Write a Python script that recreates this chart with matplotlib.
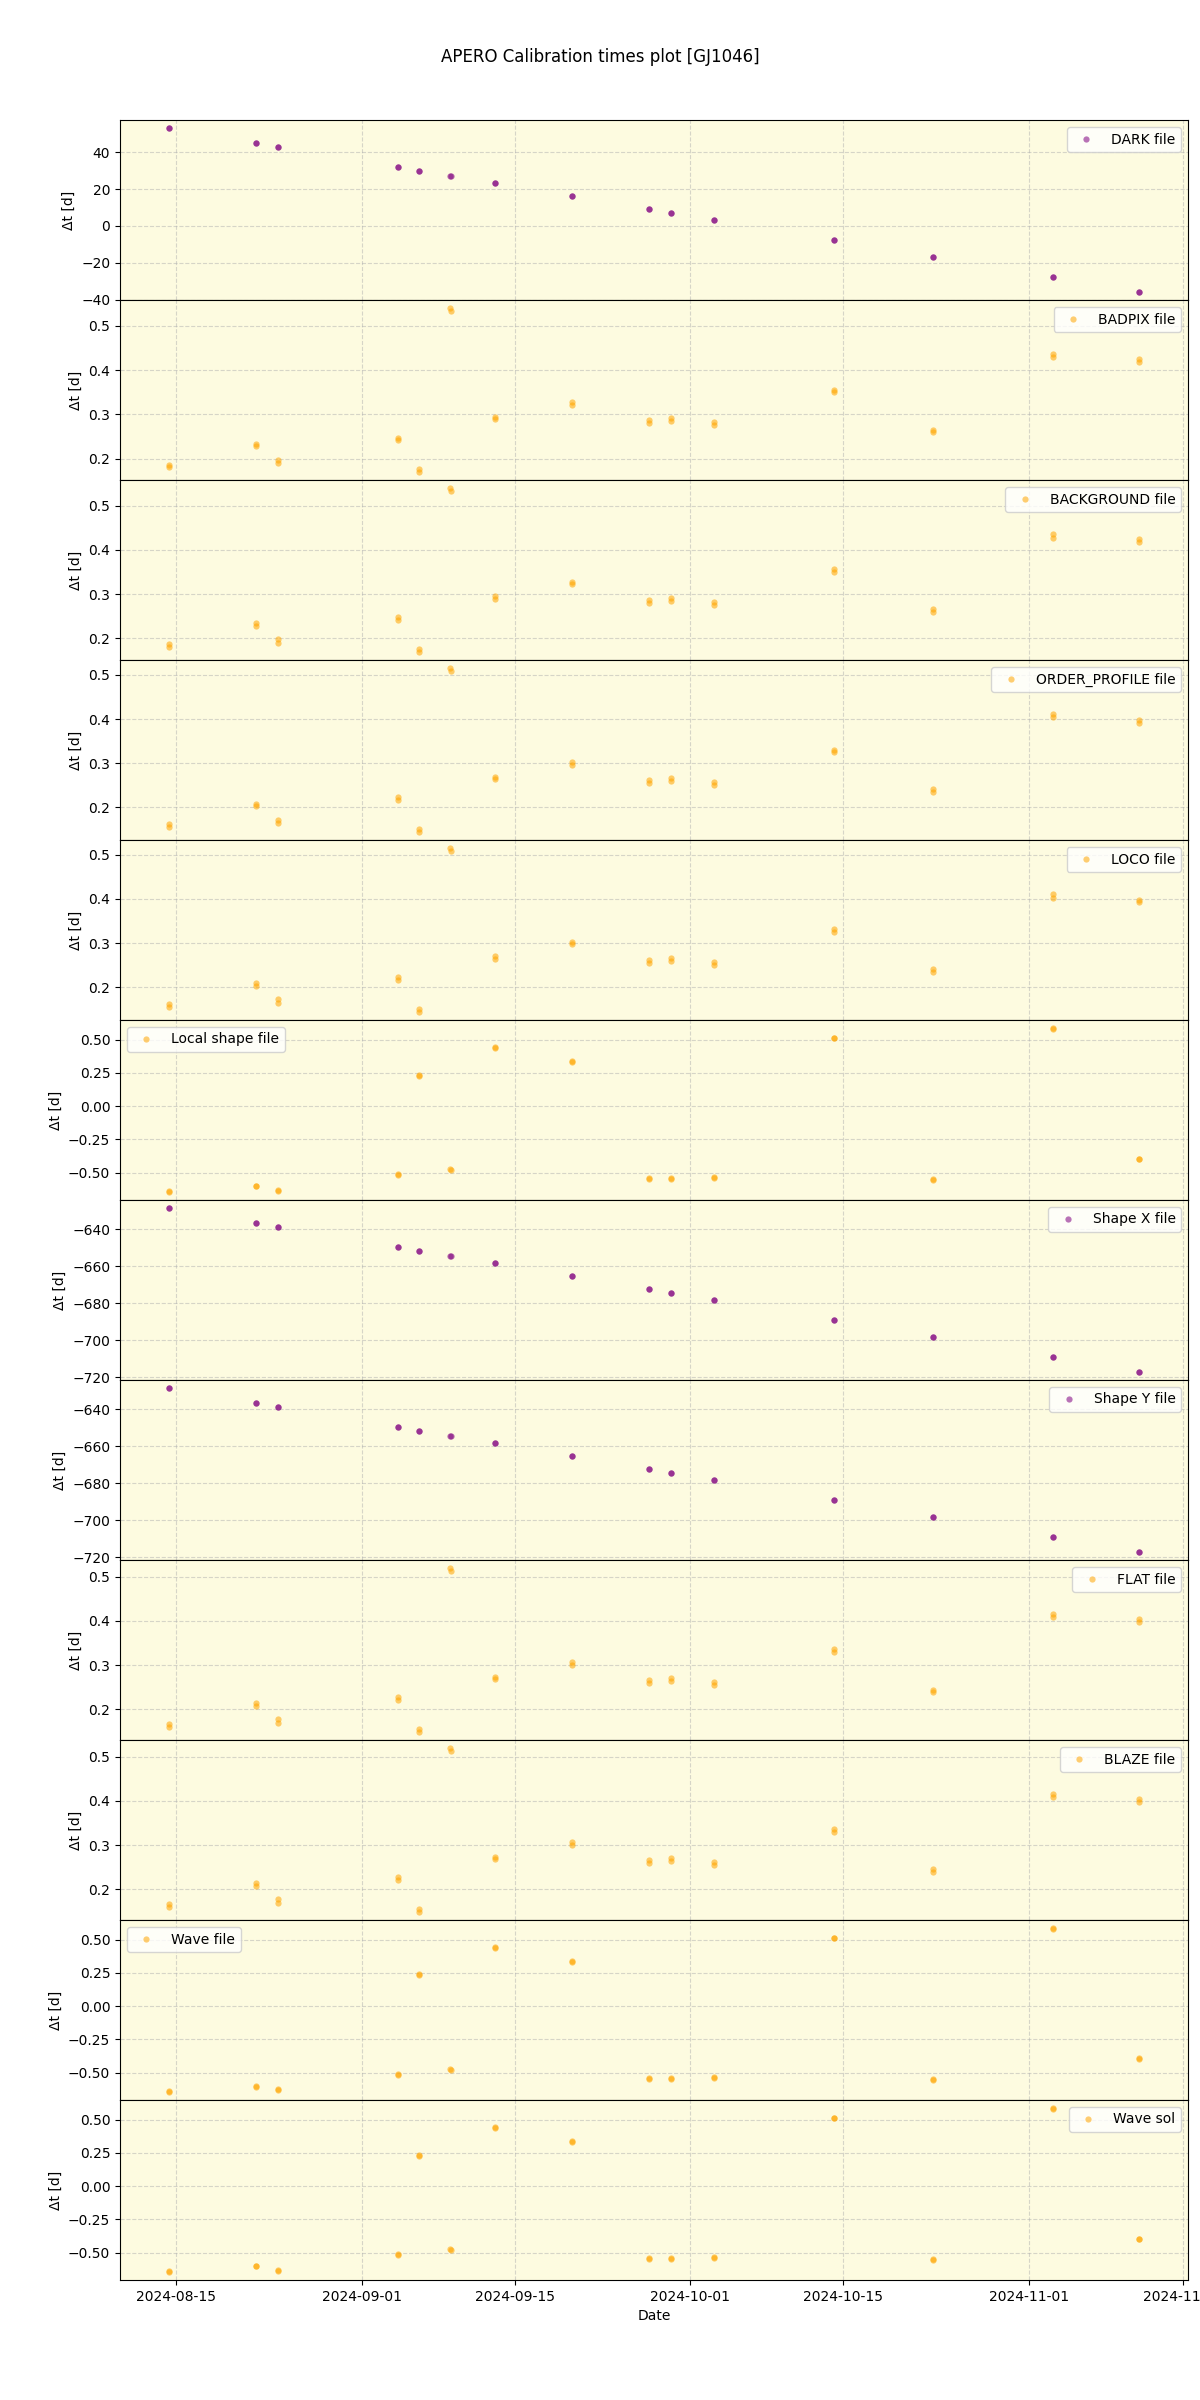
import matplotlib
matplotlib.use('Agg')
import matplotlib.pyplot as plt
import pandas as pd

# observation nights (first exposure of each night)
obs_dates = ['2024-08-14 08:00', '2024-08-22 07:45', '2024-08-24 07:30', '2024-09-04 06:15',
             '2024-09-06 06:00', '2024-09-09 02:15', '2024-09-13 03:30', '2024-09-20 05:00',
             '2024-09-27 06:15', '2024-09-29 06:00', '2024-10-03 05:00', '2024-10-14 03:00',
             '2024-10-23 05:00', '2024-11-03 02:30', '2024-11-11 01:00']
# gap (days) to the second exposure of the night
exposure_gap = [0.006, 0.006, 0.007, 0.006, 0.007, 0.006, 0.006, 0.006,
                0.007, 0.006, 0.007, 0.006, 0.006, 0.007, 0.006]

dark = [53.0, 44.9, 42.7, 31.9, 29.7, 27.0, 23.2, 16.2, 9.2, 7.0, 3.2, -7.6, -16.8, -27.6, -35.7]
badpix = [0.186, 0.234, 0.197, 0.247, 0.177, 0.540, 0.295, 0.328, 0.287, 0.291, 0.283, 0.356,
          0.265, 0.436, 0.424]
background = [0.186, 0.234, 0.197, 0.247, 0.176, 0.540, 0.295, 0.328, 0.287, 0.291, 0.282, 0.356,
              0.266, 0.435, 0.424]
order_profile = [0.162, 0.209, 0.172, 0.223, 0.152, 0.515, 0.270, 0.303, 0.262, 0.266, 0.258,
                 0.331, 0.241, 0.411, 0.398]
loco = [0.162, 0.209, 0.172, 0.223, 0.151, 0.515, 0.270, 0.303, 0.262, 0.266, 0.257, 0.331,
        0.241, 0.410, 0.398]
local_shape = [-0.637, -0.597, -0.627, -0.512, 0.236, -0.475, 0.442, 0.335, -0.540, -0.542,
               -0.531, 0.515, -0.550, 0.585, -0.393]
shape_x = [-628.6, -636.5, -638.7, -649.5, -651.6, -654.4, -658.2, -665.2, -672.2, -674.4,
           -678.1, -689.0, -698.2, -709.0, -717.1]
shape_y = [-628.6, -636.5, -638.9, -649.7, -651.9, -654.6, -658.4, -665.4, -672.4, -674.6,
           -678.4, -689.2, -698.4, -709.2, -717.1]
flat = [0.166, 0.214, 0.177, 0.227, 0.156, 0.519, 0.274, 0.307, 0.267, 0.271, 0.262, 0.336,
        0.244, 0.415, 0.403]
blaze = [0.166, 0.214, 0.177, 0.227, 0.156, 0.519, 0.274, 0.307, 0.267, 0.271, 0.262, 0.336,
         0.245, 0.415, 0.403]
wave_file = [-0.637, -0.600, -0.625, -0.512, 0.238, -0.475, 0.442, 0.335, -0.537, -0.542,
             -0.530, 0.515, -0.550, 0.585, -0.387]
wave_sol = [-0.637, -0.597, -0.627, -0.512, 0.236, -0.475, 0.442, 0.335, -0.540, -0.542,
            -0.531, 0.515, -0.550, 0.585, -0.393]

panels = [('DARK file', dark, 'purple', 'upper right'),
          ('BADPIX file', badpix, 'orange', 'upper right'),
          ('BACKGROUND file', background, 'orange', 'upper right'),
          ('ORDER_PROFILE file', order_profile, 'orange', 'upper right'),
          ('LOCO file', loco, 'orange', 'upper right'),
          ('Local shape file', local_shape, 'orange', 'upper left'),
          ('Shape X file', shape_x, 'purple', 'upper right'),
          ('Shape Y file', shape_y, 'purple', 'upper right'),
          ('FLAT file', flat, 'orange', 'upper right'),
          ('BLAZE file', blaze, 'orange', 'upper right'),
          ('Wave file', wave_file, 'orange', 'upper left'),
          ('Wave sol', wave_sol, 'orange', 'upper right')]

t1 = pd.to_datetime(obs_dates)
t2 = t1 + pd.to_timedelta(exposure_gap, unit='D')

fig, axes = plt.subplots(len(panels), 1, figsize=(12, 24), sharex=True)
fig.subplots_adjust(left=0.1, right=0.99, top=0.95, bottom=0.05, hspace=0)

for ax, (label, vals, col, loc) in zip(axes, panels):
    vals2 = [v - g for v, g in zip(vals, exposure_gap)]
    ax.set_facecolor('#fdfbe0')
    ax.plot(t1, vals, 'o', color=col, ms=4.5, mew=0, alpha=0.55, label=label)
    ax.plot(t2, vals2, 'o', color=col, ms=4.5, mew=0, alpha=0.55)
    ax.set_ylabel('Δt [d]')
    ax.grid(True, linestyle='--', alpha=0.5)
    ax.legend(loc=loc)

axes[-1].set_xlabel('Date')
fig.suptitle('APERO Calibration times plot [GJ1046]')

plt.savefig('out.png')
plt.close()
